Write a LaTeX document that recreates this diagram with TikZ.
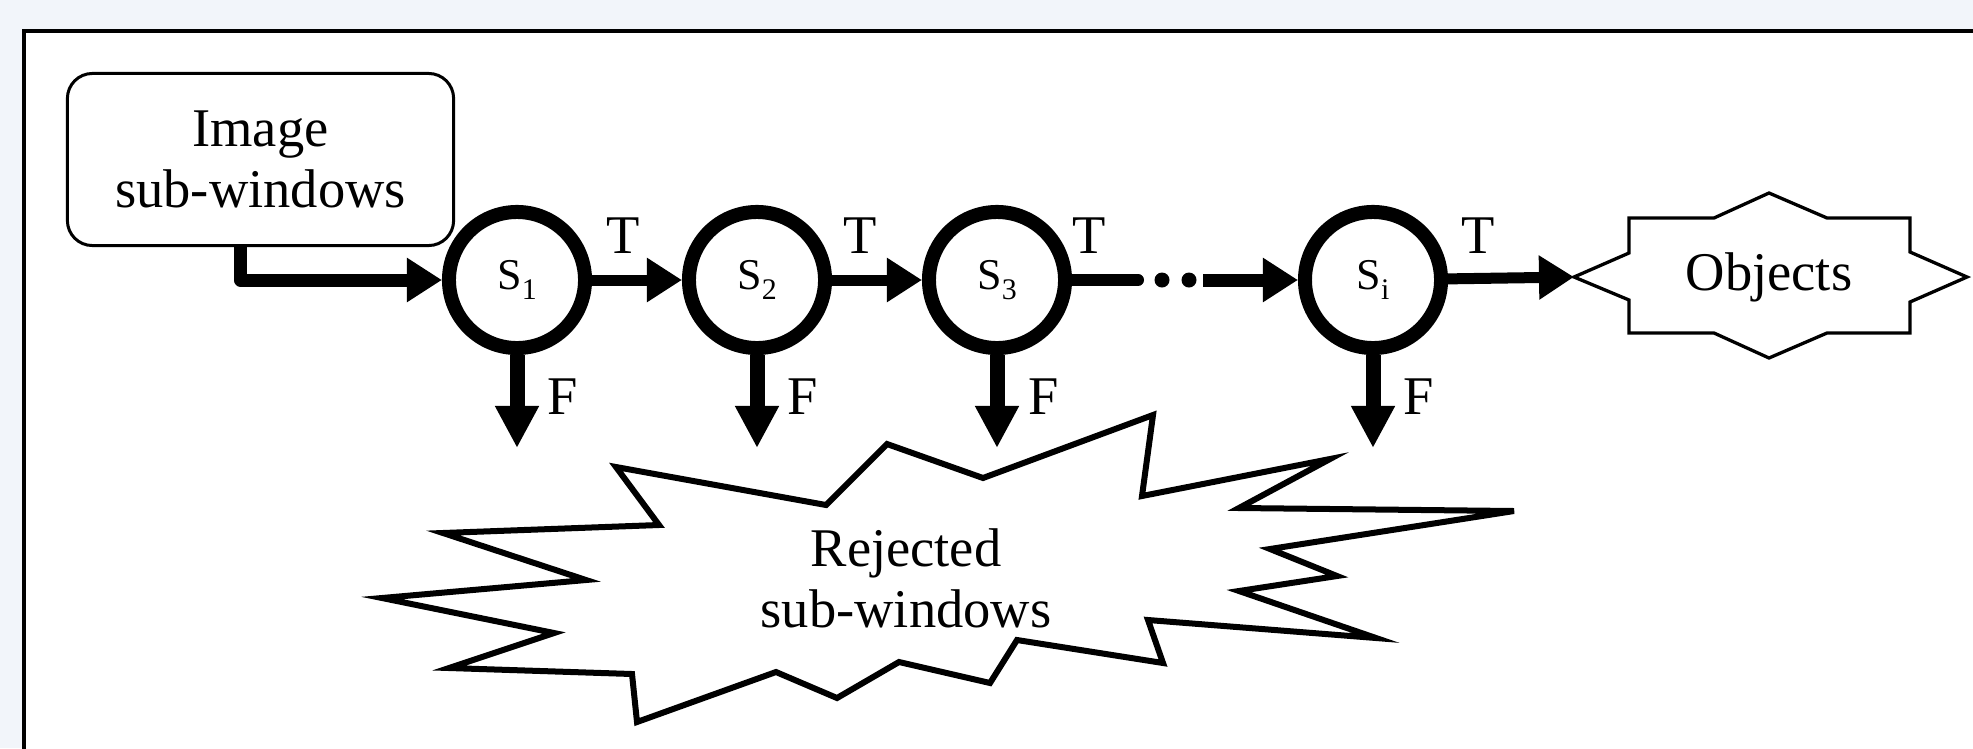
\documentclass[tikz,border=0pt]{standalone}
\usepackage{fontspec}
\setmainfont{Liberation Serif}
\usetikzlibrary{arrows.meta,calc}
\definecolor{bgc}{HTML}{F2F5FA}
\newcommand\stsub[1]{\raisebox{-0.22em}{\fontsize{8.5}{9}\selectfont #1}}
\begin{document}
\begin{tikzpicture}[x=0.01cm,y=-0.01cm,
  txt/.style={font=\fontsize{15.5}{17.4}\selectfont, align=center, inner sep=0},
  stage/.style={circle, draw, line width=0.14cm, minimum size=1.36cm, inner sep=0, font=\fontsize{12.5}{14}\selectfont},
  flow/.style={line width=0.11cm, -{Triangle[length=0.35cm,width=0.42cm]}},
  fflow/.style={line width=0.15cm, -{Triangle[length=0.42cm,width=0.41cm]}},
  lbl/.style={font=\fontsize{15.5}{17}\selectfont, inner sep=0},
  thinshape/.style={draw, line width=0.033cm, fill=white, line join=miter},
  burst/.style={draw, line width=0.06cm, fill=white, line join=miter},
]
\clip (0,0) rectangle (1973,748);
\fill[bgc] (0,0) rectangle (1973,748);
\draw[line width=0.04cm, fill=white] (24,31) rectangle (2100,900);

% input box
\node[draw, rounded corners=0.25cm, line width=0.03cm, minimum width=3.86cm, minimum height=1.72cm, txt] (box) at (260.5,159.5) {Image\\sub-windows};

% stages
\node[stage] (S1) at (517,280) {S\stsub{1}};
\node[stage] (S2) at (757,280) {S\stsub{2}};
\node[stage] (S3) at (997,280) {S\stsub{3}};
\node[stage] (Si) at (1373,280) {S\stsub{i}};

% objects shape
\draw[thinshape] (1574,277) -- (1629,253) -- (1629,218) -- (1714,218) -- (1769,193) -- (1827,218) -- (1910,218) -- (1910,252) -- (1967,277) -- (1910,302) -- (1910,333) -- (1827,333) -- (1769,358) -- (1714,333) -- (1629,333) -- (1629,300) -- cycle;
\node[txt] (obj) at (1769,277) {Objects};
\coordinate (objL) at (1574,277);

% rejected burst
\draw[burst] (616,467) -- (659,525) -- (443,533) -- (586,580) -- (382,598) -- (554,633) -- (449,668) -- (632,674) -- (637,722) -- (776,672) -- (837,698) -- (899,662) -- (990,683) -- (1017,640) -- (1163,663) -- (1148,620) -- (1376,638) -- (1239,591) -- (1337,576) -- (1270,549) -- (1514,511) -- (1239,508) -- (1330,459) -- (1142,496) -- (1153,415) -- (983,478) -- (887,444) -- (826,505) -- cycle;
\node[txt] (rej) at (906,578) {Rejected\\sub-windows};

% connectors
\draw[flow, line width=0.13cm, line join=round] ([xshift=-0.2cm]box.south) |- (S1);
\draw[flow] (S1) -- (S2);
\draw[flow] (S2) -- (S3);
\coordinate (d1) at (1138,280);
\coordinate (d2) at (1203,280);
\draw[line width=0.12cm, line cap=round] (S3) -- (d1);
\fill (1162,280) circle [radius=0.075cm];
\fill (1189,280) circle [radius=0.075cm];
\draw[flow, line width=0.13cm] (d2) -- (Si);
\draw[flow] (Si) -- (objL);

\coordinate (f1) at (517,448);
\coordinate (f2) at (757,448);
\coordinate (f3) at (997,448);
\coordinate (f4) at (1373,448);
\draw[fflow] (S1) -- (f1);
\draw[fflow] (S2) -- (f2);
\draw[fflow] (S3) -- (f3);
\draw[fflow] (Si) -- (f4);

% labels
\node[lbl] (t1) at (623,236) {T};
\node[lbl] (t2) at (860,236) {T};
\node[lbl] (t3) at (1089,236) {T};
\node[lbl] (t4) at (1478,236) {T};
\node[lbl] (F1) at (563,397) {F};
\node[lbl] (F2) at (803,397) {F};
\node[lbl] (F3) at (1044,397) {F};
\node[lbl] (F4) at (1419,397) {F};
\end{tikzpicture}
\end{document}
